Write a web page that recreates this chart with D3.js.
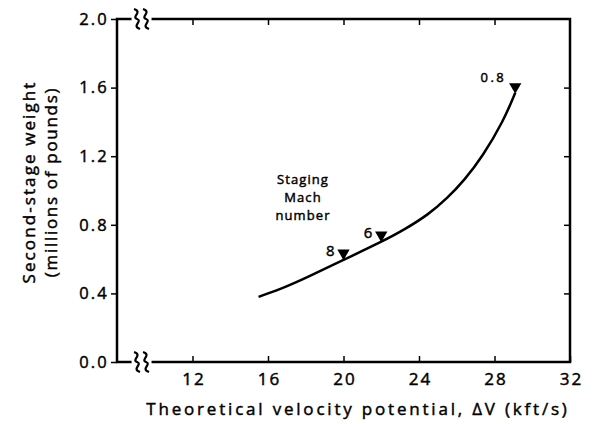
<!DOCTYPE html>
<html lang="en">
<head>
<meta charset="UTF-8">
<title>Second-stage weight</title>
<script src="https://cdn.jsdelivr.net/npm/d3@7"></script>
<style>
    body { margin: 0; background: #fff; }
    text { font-family: "Open Sans", sans-serif; fill: #000; stroke: #000; stroke-width: 0.45; }
</style>
</head>
<body>
<script>
// curve
const velocity = [15.5, 17, 18, 20, 22, 23.2, 24.5, 25.5, 26.4, 27.35, 28.5, 29.1];
const weight = [0.38, 0.44, 0.49, 0.595, 0.70, 0.77, 0.86, 0.955, 1.06, 1.195, 1.41, 1.57];

// staging points
const machLabels = ["8", "6", "0.8"];
const machVelocity = [20, 22, 29.1];
const machWeight = [0.60, 0.705, 1.57];

const xTicks = [12, 16, 20, 24, 28, 32];
const yTicks = [0.0, 0.4, 0.8, 1.2, 1.6, 2.0];

const width = 595, height = 424;
const mLeft = 117, mRight = 570, mTop = 19, mBottom = 362;

const svg = d3.select("body").append("svg")
    .attr("width", width).attr("height", height);

const x = d3.scaleLinear().domain([8, 32]).range([mLeft, mRight]);
const y = d3.scaleLinear().domain([0, 2]).range([mBottom, mTop]);

const stroke = "#000";

// frame
svg.append("rect")
    .attr("x", mLeft).attr("y", mTop)
    .attr("width", mRight - mLeft).attr("height", mBottom - mTop)
    .attr("fill", "none").attr("stroke", stroke).attr("stroke-width", 2.5);

// bottom axis
const xb = svg.append("g").attr("transform", `translate(0,${mBottom})`)
    .call(d3.axisBottom(x).tickValues(xTicks).tickSizeInner(-6).tickSizeOuter(0).tickPadding(11).tickFormat(d3.format("d")));
xb.select(".domain").remove();
xb.selectAll("line").attr("stroke", stroke).attr("stroke-width", 1.5);
xb.selectAll("text").attr("font-size", 17).attr("letter-spacing", 2).attr("dx", 1);

// top axis ticks
const xt = svg.append("g").attr("transform", `translate(0,${mTop})`)
    .call(d3.axisTop(x).tickValues(xTicks.slice(0, -1)).tickSizeInner(-6).tickSizeOuter(0).tickFormat(""));
xt.select(".domain").remove();
xt.selectAll("line").attr("stroke", stroke).attr("stroke-width", 1.5);

// left axis
const yl = svg.append("g").attr("transform", `translate(${mLeft},0)`)
    .call(d3.axisLeft(y).tickValues(yTicks).tickSizeInner(6).tickSizeOuter(0).tickPadding(2).tickFormat(d3.format(".1f")));
yl.select(".domain").remove();
yl.selectAll("line").attr("stroke", stroke).attr("stroke-width", 1.5);
yl.selectAll("text").attr("font-size", 16.5).attr("letter-spacing", 2.2);

// right axis ticks
const yr = svg.append("g").attr("transform", `translate(${mRight},0)`)
    .call(d3.axisRight(y).tickValues(yTicks.slice(1, -1)).tickSizeInner(-6).tickSizeOuter(0).tickFormat(""));
yr.select(".domain").remove();
yr.selectAll("line").attr("stroke", stroke).attr("stroke-width", 1.5);

// axis breaks
const bx = x(9.3);
[mTop, mBottom].forEach(yy => {
    svg.append("rect").attr("x", bx - 10).attr("y", yy - 3).attr("width", 20).attr("height", 6).attr("fill", "#fff");
    [-4.5, 4.5].forEach(dx => {
        const cx = bx + dx;
        svg.append("path")
            .attr("d", `M${cx - 3},${yy - 10} C${cx + 6},${yy - 7} ${cx - 6},${yy - 2} ${cx},${yy} C${cx + 6},${yy + 2} ${cx - 6},${yy + 7} ${cx + 3},${yy + 10}`)
            .attr("fill", "none").attr("stroke", stroke).attr("stroke-width", 2.2);
    });
});

// curve
const line = d3.line()
    .x((d, i) => x(velocity[i]))
    .y(d => y(d))
    .curve(d3.curveBasis);
svg.append("path")
    .attr("d", line(weight))
    .attr("fill", "none").attr("stroke", stroke).attr("stroke-width", 2.5);

// staging triangles
const tri = d3.symbol().type(d3.symbolTriangle).size(66);
machLabels.forEach((lab, i) => {
    const px = x(machVelocity[i]), py = y(machWeight[i]);
    const wide = lab === "0.8";
    svg.append("path")
        .attr("d", tri())
        .attr("transform", `translate(${px},${py - 6}) rotate(180)`)
        .attr("fill", stroke);
    svg.append("text")
        .attr("x", px - 9).attr("y", wide ? py - 11 : py - 3)
        .attr("text-anchor", "end")
        .attr("font-size", wide ? 13 : 15)
        .attr("letter-spacing", wide ? 2.5 : 0)
        .text(lab);
});

// annotation
const note = svg.append("text")
    .attr("text-anchor", "middle")
    .attr("font-size", 13).attr("letter-spacing", 1.1);
["Staging", "Mach", "number"].forEach((t, i) => {
    note.append("tspan")
        .attr("x", 303).attr("y", 184 + i * 17.8)
        .text(t);
});

// axis titles
svg.append("text")
    .attr("x", 358).attr("y", 415)
    .attr("text-anchor", "middle")
    .attr("font-size", 17).attr("letter-spacing", 2.8)
    .text("Theoretical velocity potential, \u0394V (kft/s)");

svg.append("text")
    .attr("transform", "translate(35,182) rotate(-90)")
    .attr("text-anchor", "middle")
    .attr("font-size", 17).attr("letter-spacing", 2.1)
    .text("Second-stage weight");
svg.append("text")
    .attr("transform", "translate(57,182) rotate(-90)")
    .attr("text-anchor", "middle")
    .attr("font-size", 17).attr("letter-spacing", 1.7)
    .text("(millions of pounds)");
</script>
</body>
</html>
